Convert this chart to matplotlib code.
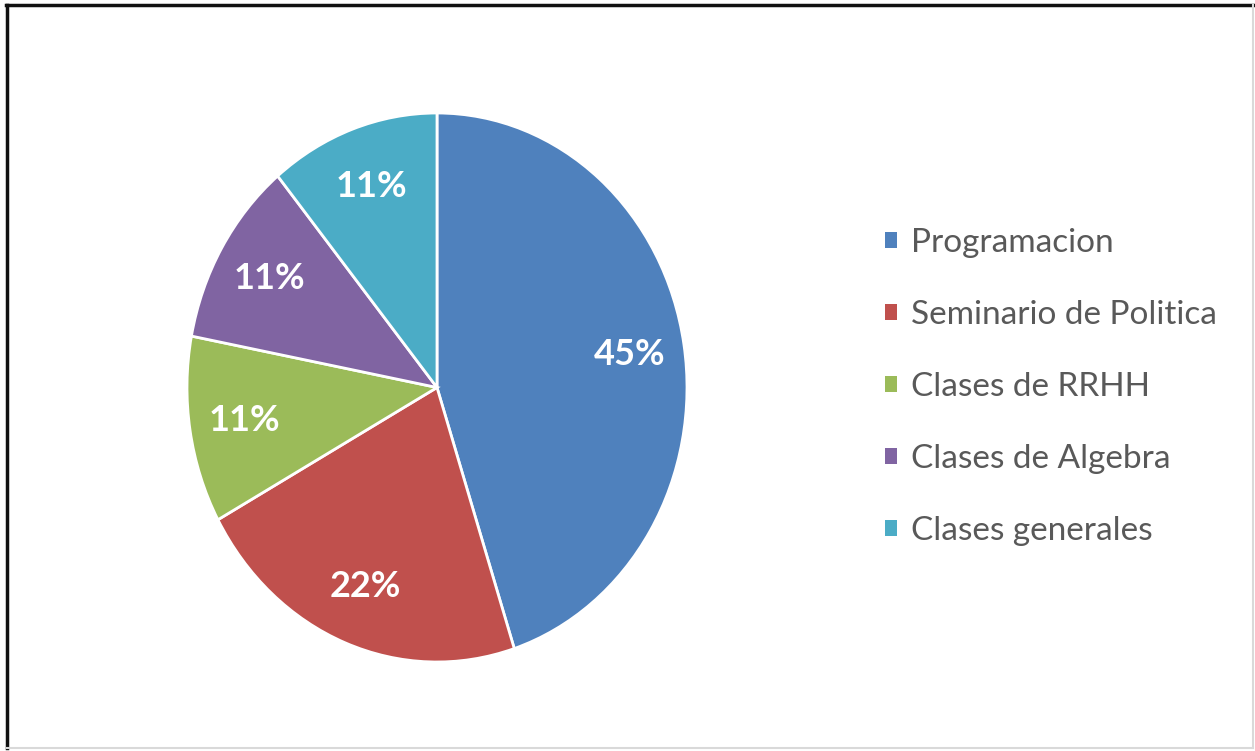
import matplotlib
matplotlib.use("Agg")
import matplotlib.pyplot as plt
from matplotlib.patches import Patch
from matplotlib.lines import Line2D

### Data

categorias = ["Programacion", "Seminario de Politica", "Clases de RRHH",
              "Clases de Algebra", "Clases generales"]
porcentajes = [45, 22, 11, 11, 11]
colores = ["#4F81BD", "#C0504D", "#9BBB59", "#8064A2", "#4BACC6"]

W, H = 1255, 751
fig = plt.figure(figsize=(W / 100, H / 100), dpi=100)
fig.patch.set_facecolor("white")

# pie axes: ellipse spans x 187..687, y 113..662 (pixels from top)
ax = fig.add_axes([187 / W, (H - 662) / H, 500 / W, 549 / H])
wedges, texts, autotexts = ax.pie(
    porcentajes, colors=colores, startangle=90, counterclock=False,
    autopct=lambda p: "%d%%" % round(p), pctdistance=0.78,
    wedgeprops=dict(edgecolor="white", linewidth=2),
    textprops=dict(color="white", fontsize=26, fontweight="bold", family="Lato"))
ax.set_aspect("auto")
ax.set_xlim(-1, 1)
ax.set_ylim(-1, 1)
ax.axis("off")

handles = [Patch(facecolor=c, edgecolor="none") for c in colores]
leg = fig.legend(handles, categorias, loc="center left",
                 bbox_to_anchor=(855 / W, 1 - 387 / H), frameon=False,
                 prop=dict(family="Lato", size=24),
                 handlelength=0.36, handleheight=0.36, handletextpad=0.42,
                 labelspacing=1.26)
for t in leg.get_texts():
    t.set_color("#595959")

# frame: dark on top/left, light grey on right/bottom
fig.add_artist(Line2D([6 / W, 1253 / W], [1 - 5 / H, 1 - 5 / H], transform=fig.transFigure,
                      color="#111111", lw=2.5))
fig.add_artist(Line2D([7 / W, 7 / W], [1 - 5 / H, 1 - 748 / H], transform=fig.transFigure,
                      color="#111111", lw=2.5))
fig.add_artist(Line2D([1253 / W, 1253 / W], [1 - 5 / H, 1 - 748 / H], transform=fig.transFigure,
                      color="#d9d9d9", lw=1.5))
fig.add_artist(Line2D([7 / W, 1253 / W], [1 - 748 / H, 1 - 748 / H], transform=fig.transFigure,
                      color="#d9d9d9", lw=1.5))

fig.savefig("out.png", dpi=100)
